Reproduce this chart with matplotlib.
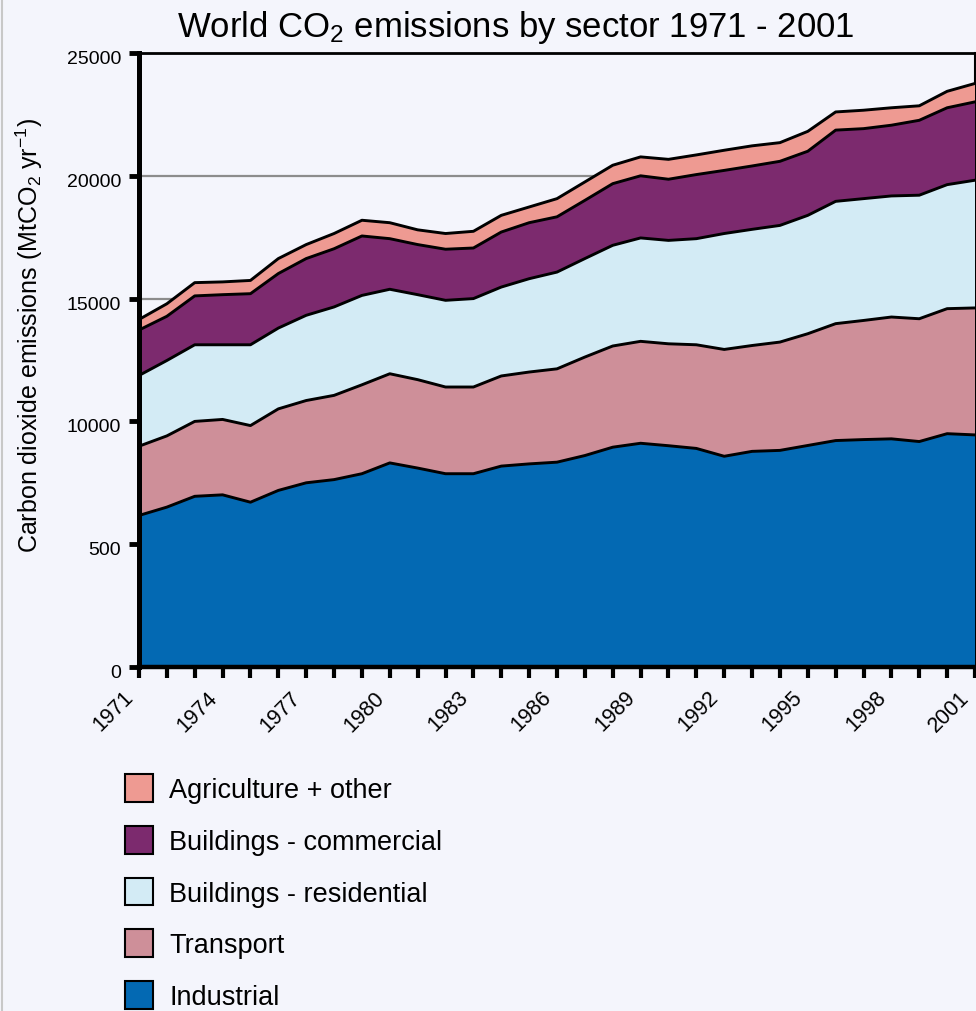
import numpy as np
import matplotlib
matplotlib.use("Agg")
import matplotlib.pyplot as plt
import matplotlib.transforms as mtransforms
from matplotlib.patches import Patch
from matplotlib.lines import Line2D

plt.rcParams["font.family"] = ["Liberation Sans", "DejaVu Sans"]
plt.rcParams["mathtext.fontset"] = "custom"
plt.rcParams["mathtext.rm"] = "Liberation Sans"
plt.rcParams["mathtext.it"] = "Liberation Sans:italic"
plt.rcParams["mathtext.bf"] = "Liberation Sans:bold"

# --- data (MtCO2 per year) --------------------------------------------------
years = list(range(1971, 2002))

industrial = [6170, 6510, 6950, 7010, 6710, 7190, 7500, 7630, 7870, 8310,
              8100, 7870, 7870, 8180, 8270, 8340, 8610, 8950, 9110, 9010,
              8900, 8580, 8780, 8820, 9020, 9220, 9260, 9290, 9180, 9500,
              9450]
transport = [2820, 2900, 3050, 3070, 3120, 3320, 3350, 3430, 3620, 3630,
             3600, 3530, 3530, 3670, 3740, 3800, 4010, 4120, 4150, 4150,
             4220, 4350, 4310, 4410, 4550, 4760, 4850, 4960, 5000, 5090,
             5170]
residential = [2880, 3070, 3120, 3040, 3290, 3290, 3470, 3600, 3640, 3440,
               3460, 3530, 3600, 3620, 3800, 3940, 4010, 4100, 4210, 4210,
               4320, 4720, 4730, 4750, 4820, 4980, 4960, 4930, 5030, 5050,
               5200]
commercial = [1850, 1800, 1990, 2040, 2080, 2220, 2310, 2370, 2420, 2060,
              2040, 2080, 2060, 2240, 2280, 2250, 2370, 2510, 2530, 2490,
              2610, 2570, 2580, 2610, 2610, 2900, 2850, 2880, 3050, 3130,
              3190]
agriculture = [430, 510, 540, 520, 540, 610, 570, 620, 640, 650,
               600, 640, 680, 680, 640, 740, 750, 750, 770, 810,
               800, 820, 820, 760, 810, 740, 750, 710, 590, 670,
               750]

sectors = ["Industrial", "Transport", "Buildings - residential",
           "Buildings - commercial", "Agriculture + other"]
colors = ["#0369B3", "#CE8F99", "#D3EBF5", "#7C2A6E", "#EE9A92"]

y_ticks = [0, 5000, 10000, 15000, 20000, 25000]
y_tick_labels = ["0", "500", "10000", "15000", "20000", "25000"]
x_label_years = list(range(1971, 2002, 3))

BG = "#F4F5FC"

# --- figure ------------------------------------------------------------------
fig = plt.figure(figsize=(9.76, 10.12), dpi=100, facecolor=BG)
ax = fig.add_axes([139 / 976, 344 / 1012, 836 / 976, 614 / 1012])
ax.set_facecolor(BG)

series = [industrial, transport, residential, commercial, agriculture]
ax.stackplot(years, *series, colors=colors, linewidth=0, zorder=1)

# black outline along the top of every layer
tops = np.cumsum(np.array(series), axis=0)
for top in tops:
    ax.plot(years, top, color="black", lw=2.1, zorder=2,
            solid_joinstyle="round")

ax.set_xlim(1971, 2001)
ax.set_ylim(0, 25000)

ax.set_axisbelow(True)
ax.yaxis.grid(True, color="#8C8C8C", lw=1.6)

ax.set_yticks(y_ticks)
ax.set_yticklabels(y_tick_labels, fontsize=14)
ax.set_xticks(years)
ax.set_xticklabels([str(y) if y in x_label_years else "" for y in years],
                   fontsize=15.5, rotation=45, ha="right", va="top",
                   rotation_mode="anchor")

ax.tick_params(axis="y", length=7, width=3.5, pad=6)
ax.tick_params(axis="x", length=8, width=3, pad=6)

# the original's year labels sit a little left of their ticks
shift_x = mtransforms.ScaledTranslation(-0.16, 0, fig.dpi_scale_trans)
for lab in ax.get_xticklabels():
    lab.set_transform(lab.get_transform() + shift_x)
shift_y = mtransforms.ScaledTranslation(0, -0.035, fig.dpi_scale_trans)
for lab in ax.get_yticklabels():
    lab.set_transform(lab.get_transform() + shift_y)

ax.spines["left"].set_linewidth(3.6)
ax.spines["bottom"].set_linewidth(3.2)
ax.spines["top"].set_linewidth(2)
ax.spines["right"].set_linewidth(1.5)
ax.spines["right"].set_zorder(0.5)
for side in ("left", "bottom"):
    ax.spines[side].set_zorder(3)

ax.set_ylabel("Carbon dioxide emissions (MtCO$_2$ yr$^{-1}$)", fontsize=18)
ax.yaxis.set_label_coords(-0.112, 0.541)

fig.text(516 / 976, 1 - 37 / 1012,
         "World CO$_2$ emissions by sector 1971 - 2001",
         fontsize=25, ha="center", va="baseline")

# page border on the left
fig.add_artist(Line2D([2 / 976, 2 / 976], [0, 1], color="#C8C8C8", lw=1.5))

# legend, top entry first
handles = [Patch(facecolor=c, edgecolor="black", linewidth=1.5)
           for c in colors[::-1]]
fig.legend(handles, sectors[::-1], loc="upper left",
           bbox_to_anchor=(125 / 976, 1 - 775 / 1012),
           frameon=False, fontsize=19.5, borderpad=0, borderaxespad=0,
           handlelength=1.04, handleheight=1.2, handletextpad=0.6,
           labelspacing=0.84)

fig.savefig("out.png", dpi=100, facecolor=BG)
